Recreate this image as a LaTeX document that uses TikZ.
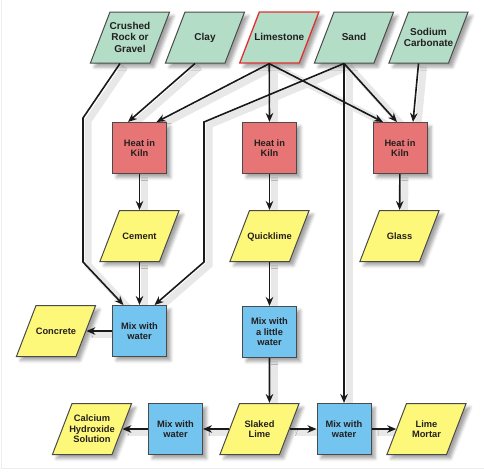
\documentclass[tikz,border=0pt]{standalone}
\usepackage{fontspec}
\setmainfont{Liberation Sans}
\usetikzlibrary{shapes.geometric,arrows.meta,shadows.blur}
\pgfdeclarelayer{lineshade}
\pgfsetlayers{lineshade,main}
\definecolor{rawgreen}{HTML}{B3DDC7}
\definecolor{kilnred}{HTML}{E87575}
\definecolor{prodyellow}{HTML}{FEF87A}
\definecolor{mixblue}{HTML}{73C4EF}
\definecolor{edgegray}{HTML}{4A4A4A}
\definecolor{limered}{HTML}{E03030}
\definecolor{ink}{HTML}{231F20}
% fixed 40pt x 31pt text box for the slanted shapes
\newcommand{\slab}[1]{\makebox[40pt]{\raisebox{-3.5pt}[15.5pt][15.5pt]{\begin{tabular}{@{}c@{}}#1\end{tabular}}}}
% all connectors, drawn twice: once as shadow, once as line
\newcommand{\flowpaths}{
			\draw[flow] (crushed.bottom side) -- (b1) -- (b2) -- ([xshift=-16pt]mixA.north);
			\draw[flow] (clay.bottom side) -- ([xshift=-11.5pt]kiln1.north);
			\draw[flow] (lime.bottom side) -- ([xshift=17pt]kiln1.north);
			\draw[flow] (lime.bottom side) -- (kiln2.north);
			\draw[flow] (lime.bottom side) -- ([xshift=-17pt]kiln3.north);
			\draw[flow] (sand.bottom side) -- (b3) -- (b4) -- ([xshift=15pt]mixA.north);
			\draw[flow] (sand.bottom side) -- (sand.bottom side |- mixBR.north);
			\draw[flow] (sand.bottom side) -- ([xshift=-3pt]kiln3.north);
			\draw[flow] (soda.bottom side) -- ([xshift=13pt]kiln3.north);
			\draw[flow] (kiln1) -- (cement);
			\draw[flow] (kiln2) -- (quick);
			\draw[flow] (kiln3) -- (glass);
			\draw[flow] (cement) -- (mixA);
			\draw[flow] (mixA.west) -- (concrete.right side);
			\draw[flow] (quick) -- (mixL);
			\draw[flow] (mixL.south) -- (slaked.top side);
			\draw[flow] (slaked.left side) -- (mixBL.east);
			\draw[flow] (mixBL.west) -- (calcium.right side);
			\draw[flow] (slaked.right side) -- (mixBR.west);
			\draw[flow] (mixBR.east) -- (mortar.left side);
}
\tikzset{
  softshadow/.style={blur shadow={shadow xshift=4pt,shadow yshift=-4pt,shadow blur radius=3pt,shadow opacity=35}},
  stuff/.style={draw=edgegray,line width=1pt,trapezium,trapezium left angle=69,trapezium right angle=111,
    inner xsep=0pt,inner ysep=10pt,text=ink,softshadow},
  material/.style={stuff,fill=rawgreen,font=\bfseries\fontsize{10}{11.5}\selectfont},
  product/.style={stuff,fill=prodyellow,font=\bfseries\fontsize{9.3}{10.5}\selectfont},
  process/.style={draw=edgegray,line width=1pt,rectangle,minimum width=54pt,minimum height=51pt,inner sep=0pt,
    align=center,text=ink,font=\bfseries\fontsize{9.3}{10.5}\selectfont,softshadow},
  kiln/.style={process,fill=kilnred},
  mixer/.style={process,fill=mixblue},
  flow/.style={draw=black!90,line width=1.6pt,-{Stealth[length=9pt,width=7.5pt]}},
  flowshade/.style={flow/.style={draw=black!9,line width=7pt}}
}
\begin{document}
\begin{tikzpicture}[x=1pt,y=-1pt]
			\useasboundingbox (0,0) rectangle (484,471);
			\draw[black!7] (1,0) -- (1,468) -- (484,468);
			% raw materials
			\node[material] (crushed) at (130,37.5) {\slab{Crushed\\Rock or\\Gravel}};
			\node[material] (clay) at (205,37.5) {\slab{Clay}};
			\node[material,draw=limered,line width=1.3pt] (lime) at (279.3,37.5) {\slab{Limestone}};
			\node[material] (sand) at (354,37.5) {\slab{Sand}};
			\node[material] (soda) at (428.5,37.5) {\slab{Sodium\\Carbonate}};
			% kilns
			\node[kiln] (kiln1) at (139.5,148) {Heat in\\Kiln};
			\node[kiln] (kiln2) at (269.5,148) {Heat in\\Kiln};
			\node[kiln] (kiln3) at (400,148) {Heat in\\Kiln};
			% products
			\node[product] (cement) at (139.5,236) {\slab{Cement}};
			\node[product] (quick) at (269.5,236) {\slab{Quicklime}};
			\node[product] (glass) at (399.5,236) {\slab{Glass}};
			\node[mixer] (mixA) at (139.5,331) {Mix with\\water};
			\node[product] (concrete) at (56,331) {\slab{Concrete}};
			\node[mixer] (mixL) at (269.5,332) {Mix with\\a little\\water};
			\node[product] (slaked) at (259.5,429) {\slab{Slaked\\Lime}};
			\node[mixer] (mixBL) at (175.5,429) {Mix with\\water};
			\node[product] (calcium) at (92,429) {\slab{Calcium\\Hydroxide\\Solution}};
			\node[mixer] (mixBR) at (344,429) {Mix with\\water};
			\node[product] (mortar) at (426.5,429) {\slab{Lime\\Mortar}};
			% bends
			\coordinate (b1) at (83,118);
			\coordinate (b2) at (83,262);
			\coordinate (b3) at (204,122);
			\coordinate (b4) at (204,262);
			% connectors
			\begin{pgfonlayer}{lineshade}
				\begin{scope}[flowshade,transform canvas={xshift=5pt,yshift=-3pt}]
					\flowpaths
				\end{scope}
			\end{pgfonlayer}
			\flowpaths
		\end{tikzpicture}
\end{document}
